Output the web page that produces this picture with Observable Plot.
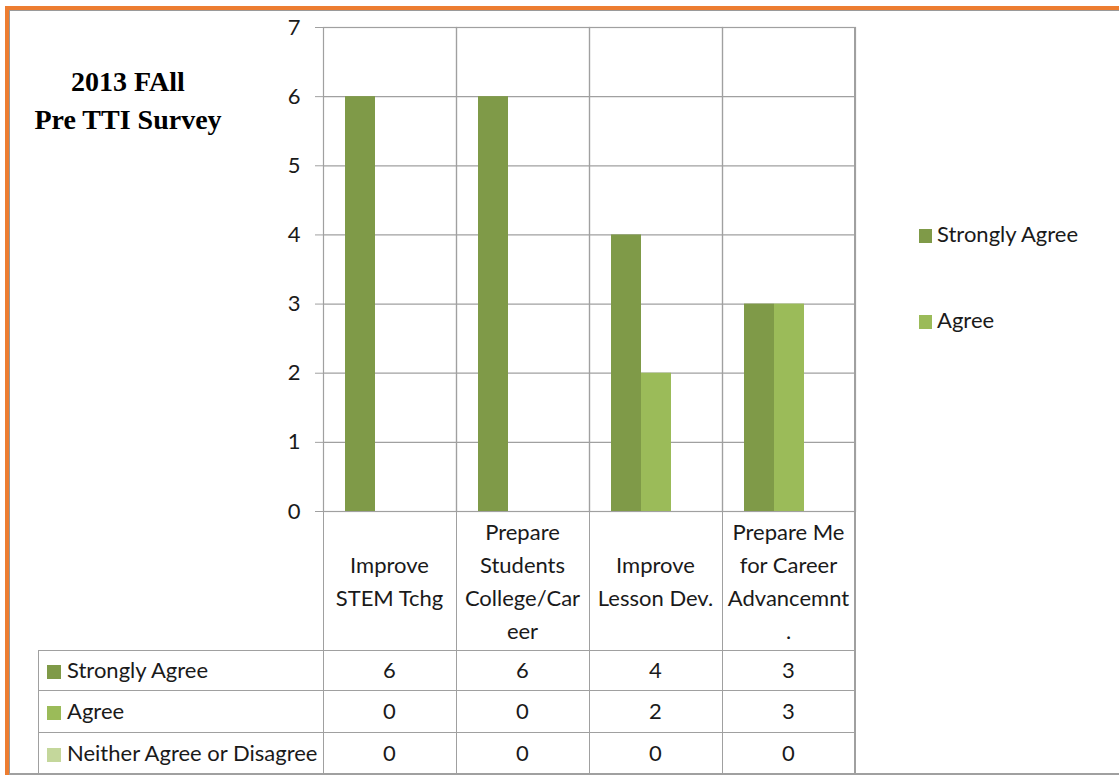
<!DOCTYPE html>
<html>
<head>
<meta charset="utf-8">
<script src="https://cdn.jsdelivr.net/npm/d3@7"></script>
<script src="https://cdn.jsdelivr.net/npm/@observablehq/plot@0.6"></script>
<style>
  body { margin: 0; background: #fff; }
  #page { position: relative; width: 1119px; height: 775px; overflow: hidden;
          font-family: Lato, "Open Sans", sans-serif; color: #1a1a1a; background: #fff; }
  #page svg { position: absolute; left: 0; top: 0; overflow: visible; }
  .edge { position: absolute; }
  .title { position: absolute; left: 10px; width: 236px; text-align: center;
           font-family: "Liberation Serif", "Times New Roman", serif; font-weight: bold;
           font-size: 28px; line-height: 38px; top: 63px; color: #000; }
  .hline, .vline { position: absolute; background: #a0a0a0; }
  .cell { position: absolute; text-align: center; font-size: 22px; }
  .rowlabel { position: absolute; font-size: 22px; white-space: nowrap; }
  .swatch { display: inline-block; width: 14px; height: 14px; margin-right: 6px; vertical-align: -1px; }
  .legend { position: absolute; left: 919px; font-size: 22px; white-space: nowrap; }
  .legend .swatch { width: 13px; height: 14px; margin-right: 5px; }
</style>
</head>
<body>
<div id="page"></div>
<script>
// Survey responses per statement
const categories = [
  "Improve STEM Tchg",
  "Prepare Students College/Career",
  "Improve Lesson Dev.",
  "Prepare Me for Career Advancemnt."
];
// Category labels as they wrap in the table header cells
const categoryLines = [
  ["Improve", "STEM Tchg"],
  ["Prepare", "Students", "College/Car", "eer"],
  ["Improve", "Lesson Dev."],
  ["Prepare Me", "for Career", "Advancemnt", "."]
];
const seriesNames = ["Strongly Agree", "Agree", "Neither Agree or Disagree"];
const stronglyAgree = [6, 6, 4, 3];
const agree = [0, 0, 2, 3];
const neither = [0, 0, 0, 0];
const seriesColors = ["#7f9a48", "#9bbb59", "#c4d79b"];
const yTicks = [0, 1, 2, 3, 4, 5, 6, 7];
const legendSeries = ["Strongly Agree", "Agree"];

const seriesValues = [stronglyAgree, agree, neither];
const data = categories.flatMap((c, i) =>
  seriesNames.map((s, j) => ({category: c, series: s, value: seriesValues[j][i]}))
);

const gridColor = "#a0a0a0";

const chart = Plot.plot({
  width: 1119,
  height: 775,
  marginTop: 27,
  marginBottom: 264,
  marginLeft: 323,
  marginRight: 264,
  style: {background: "transparent", fontFamily: "Lato, 'Open Sans', sans-serif", fontSize: "22px", color: "#1a1a1a"},
  fx: {domain: categories, padding: 0, axis: null},
  x: {domain: seriesNames, paddingInner: 0, paddingOuter: 43 / 60, axis: null},
  y: {domain: [0, 7]},
  color: {domain: seriesNames, range: seriesColors},
  marks: [
    Plot.gridY(yTicks, {stroke: gridColor, strokeOpacity: 1, strokeWidth: 1.2}),
    Plot.frame({stroke: gridColor, strokeWidth: 1.2}),
    Plot.barY(data, {fx: "category", x: "series", y: "value", fill: "series"}),
    Plot.axisY(yTicks, {tickSize: 8, tickPadding: 15, tickFormat: d3.format("d"),
      stroke: gridColor, fill: "#1a1a1a", label: null, fontSize: 22})
  ]
});

const page = document.getElementById("page");

// Page border: orange rule with a thin grey edge
function box(left, top, width, height, color) {
  const d = document.createElement("div");
  d.className = "edge";
  Object.assign(d.style, {left: left + "px", top: top + "px", width: width + "px", height: height + "px", background: color});
  page.appendChild(d);
  return d;
}
box(5, 6, 1114, 4, "#ed7d31");
box(9, 10, 1110, 1, "#9a9a9a");
box(5, 6, 4, 769, "#ed7d31");
box(9, 10, 1, 765, "#9a9a9a");

page.appendChild(chart);

// Title
const title = document.createElement("div");
title.className = "title";
title.innerHTML = "2013 FAll<br>Pre TTI Survey";
page.appendChild(title);

// Legend
legendSeries.forEach((s, i) => {
  const d = document.createElement("div");
  d.className = "legend";
  d.style.top = (220 + i * 86) + "px";
  d.innerHTML = `<span class="swatch" style="background:${seriesColors[seriesNames.indexOf(s)]}"></span>${s}`;
  page.appendChild(d);
});

// Data table under the plot, aligned with the facet bands
const fx = chart.scale("fx");
const y = chart.scale("y");
const bw = fx.bandwidth;
const tableTop = y.apply(0);
const headerBottom = 650;
const rowTops = [650, 690, 732];
const tableBottom = 773;
const tableLeft = 38;
const colStarts = categories.map(c => fx.apply(c));
const tableRight = colStarts[colStarts.length - 1] + bw;

function line(cls, left, top, width, height) {
  const d = document.createElement("div");
  d.className = cls;
  Object.assign(d.style, {left: left + "px", top: top + "px", width: width + "px", height: height + "px"});
  page.appendChild(d);
}

// Vertical rules at band edges
colStarts.forEach(x0 => line("vline", x0 - 0.5, tableTop, 1.2, tableBottom - tableTop));
line("vline", tableRight - 1, 27, 2, tableBottom - 27);
line("vline", tableLeft, headerBottom, 1.2, tableBottom - headerBottom);
// Horizontal rules
rowTops.forEach(t => line("hline", tableLeft, t, tableRight - tableLeft, 1.2));
line("hline", 9, tableBottom, 1110, 1.5);

// Header cells with wrapped category names
categories.forEach((c, i) => {
  const d = document.createElement("div");
  d.className = "cell";
  const lines = categoryLines[i];
  const lh = 33;
  const mid = (tableTop + headerBottom) / 2;
  Object.assign(d.style, {left: colStarts[i] + "px", width: bw + "px",
    top: (mid - lines.length * lh / 2) + "px", lineHeight: lh + "px"});
  d.innerHTML = lines.join("<br>");
  page.appendChild(d);
});

// Value rows
seriesNames.forEach((s, j) => {
  const top = rowTops[j];
  const h = (j + 1 < rowTops.length ? rowTops[j + 1] : tableBottom) - top;
  const lab = document.createElement("div");
  lab.className = "rowlabel";
  Object.assign(lab.style, {left: (tableLeft + 9) + "px", top: top + "px", lineHeight: h + "px"});
  lab.innerHTML = `<span class="swatch" style="background:${seriesColors[j]}"></span>${s}`;
  page.appendChild(lab);
  categories.forEach((c, i) => {
    const d = document.createElement("div");
    d.className = "cell";
    Object.assign(d.style, {left: colStarts[i] + "px", width: bw + "px", top: top + "px", lineHeight: h + "px"});
    d.textContent = seriesValues[j][i];
    page.appendChild(d);
  });
});
</script>
</body>
</html>
